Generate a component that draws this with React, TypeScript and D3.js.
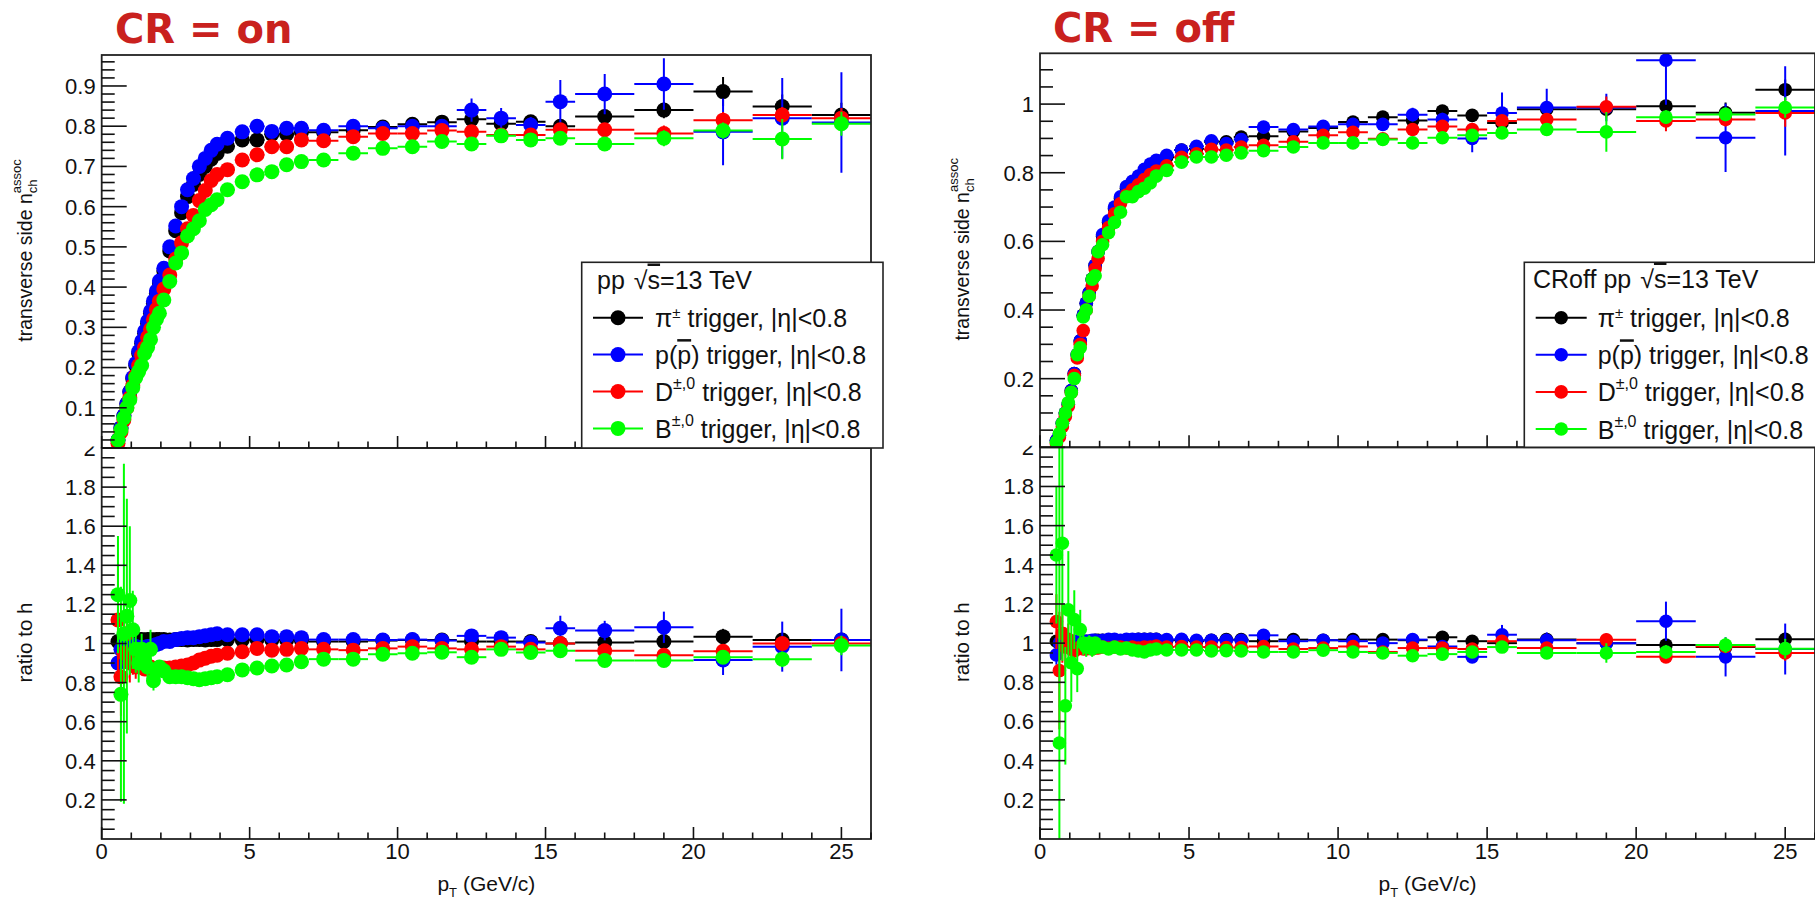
import React from 'react';
import * as d3 from 'd3';

const FONT = '"Liberation Sans", Arial, Helvetica, sans-serif';

// pT bin edges (GeV/c)
const binEdges = [0.5, 0.6, 0.7, 0.8, 0.9, 1.0, 1.1, 1.2, 1.3, 1.4, 1.5, 1.6, 1.7, 1.8, 1.9, 2.0,
  2.2, 2.4, 2.6, 2.8, 3.0, 3.2, 3.4, 3.6, 3.8, 4.0, 4.5, 5.0, 5.5, 6.0, 6.5, 7.0,
  8, 9, 10, 11, 12, 13, 14, 15, 16, 18, 20, 22, 24, 26];
const ptCenters = binEdges.slice(0, -1).map((e, i) => (e + binEdges[i + 1]) / 2);

// ---------- CR = on : transverse side n_ch^assoc ----------
const onPi = [0.02,0.05,0.08,0.11,0.14, 0.172,0.205,0.235,0.26,0.285, 0.31,0.335,0.36,0.385,0.41, 0.44,0.49,0.54,0.585,0.625, 0.655,0.68,0.70,0.718,0.732, 0.75,0.766,0.766,0.78,0.78, 0.785,0.785,0.79,0.798,0.805, 0.81,0.817,0.806,0.811,0.80, 0.824,0.840,0.886,0.849,0.828];
const onP = [0.02,0.05,0.08,0.11,0.14, 0.175,0.21,0.24,0.265,0.29, 0.315,0.34,0.365,0.39,0.415, 0.447,0.50,0.552,0.60,0.642, 0.67,0.70,0.72,0.74,0.755, 0.77,0.786,0.80,0.787,0.795, 0.795,0.79,0.80,0.795,0.80, 0.80,0.84,0.82,0.803,0.861, 0.880,0.905,0.786,0.820,0.809];
const onD = [0.012,0.04,0.07,0.10,0.125, 0.155,0.18,0.205,0.23,0.25, 0.275,0.295,0.32,0.345,0.365, 0.395,0.43,0.47,0.51,0.545, 0.578,0.615,0.64,0.665,0.68, 0.692,0.716,0.729,0.749,0.749, 0.766,0.764,0.774,0.782,0.782, 0.789,0.786,0.778,0.778,0.791, 0.791,0.782,0.815,0.828,0.820];
const onB = [0.02,0.045,0.075,0.10,0.12, 0.15,0.175,0.19,0.205,0.235, 0.25,0.27,0.30,0.32,0.335, 0.368,0.414,0.46,0.485,0.527, 0.545,0.565,0.593,0.605,0.617, 0.642,0.662,0.679,0.687,0.704, 0.712,0.716,0.733,0.745,0.749, 0.762,0.756,0.776,0.766,0.770, 0.756,0.770,0.789,0.768,0.806];
const onPiErr = [0,0,0,0,0, 0,0,0,0,0, 0,0,0,0,0, 0,0,0,0,0, 0,0,0,0,0, 0,0.004,0.004,0.005,0.005, 0.006,0.006,0.007,0.008,0.009, 0.01,0.012,0.014,0.016,0.018, 0.015,0.02,0.036,0.03,0.03];
const onPErr = [0,0,0,0,0, 0,0,0,0,0, 0,0,0,0,0, 0,0,0,0,0, 0,0,0,0,0, 0,0.005,0.005,0.006,0.006, 0.007,0.007,0.008,0.009,0.01, 0.012,0.029,0.025,0.02,0.054, 0.05,0.064,0.083,0.1,0.125];
const onDErr = [0,0,0,0,0, 0,0,0,0,0, 0,0,0,0,0, 0,0,0,0,0, 0,0,0,0,0, 0,0.004,0.004,0.005,0.005, 0.006,0.006,0.007,0.008,0.009, 0.01,0.011,0.012,0.014,0.015, 0.015,0.02,0.02,0.02,0.025];
const onBErr = [0,0,0,0,0, 0,0,0,0,0, 0,0,0,0,0, 0,0,0,0,0, 0,0,0,0,0, 0,0.004,0.004,0.005,0.005, 0.006,0.006,0.007,0.008,0.009, 0.01,0.011,0.012,0.014,0.015, 0.015,0.02,0.02,0.05,0.03];

// ---------- CR = on : ratio to h ----------
const onPiR = [1.01,0.99,1.0,1.01,1.0, 1.02,1.018,1.02,1.02,1.018, 1.02,1.02,1.018,1.02,1.02, 1.02,1.018,1.02,1.02,1.018, 1.02,1.02,1.018,1.02,1.02, 1.02,1.018,1.02,1.018,1.018, 1.015,1.01,1.01,1.015,1.018, 1.018,1.01,1.01,1.01,1.0, 1.005,1.01,1.035,1.018,1.018];
const onPR = [0.90,0.97,1.0,0.98,1.0, 0.99,0.985,0.98,0.98,0.98, 0.985,0.985,0.99,0.995,1.0, 1.01,1.01,1.02,1.025,1.03, 1.03,1.035,1.04,1.045,1.05, 1.045,1.045,1.045,1.035,1.035, 1.03,1.02,1.02,1.018,1.02, 1.015,1.039,1.03,1.005,1.078, 1.066,1.083,0.916,0.984,1.018];
const onDR = [1.12,0.83,0.95,1.05,0.90, 0.92,0.88,0.90,0.88,0.87, 0.87,0.88,0.87,0.865,0.87, 0.875,0.875,0.88,0.885,0.89, 0.90,0.915,0.925,0.935,0.94, 0.95,0.958,0.975,0.966,0.97, 0.975,0.97,0.966,0.975,0.984, 0.975,0.97,0.984,0.97,1.0, 0.963,0.94,0.96,1.0,1.0];
const onBR = [1.25,0.74,1.05,1.14,1.22, 1.07,0.97,0.90,0.97,0.92, 0.88,0.97,0.81,0.86,0.88, 0.86,0.83,0.83,0.83,0.825, 0.82,0.815,0.82,0.825,0.83, 0.84,0.865,0.875,0.885,0.89, 0.907,0.92,0.92,0.945,0.95, 0.955,0.93,0.97,0.954,0.963, 0.913,0.913,0.93,0.92,0.99];
const onPiRErr = [0.02,0.015,0.012,0.01,0.01, 0.008,0.007,0.006,0.006,0.005, 0.005,0.005,0.005,0.005,0.005, 0.005,0.005,0.005,0.005,0.005, 0.005,0.005,0.005,0.005,0.005, 0.005,0.006,0.006,0.007,0.007, 0.008,0.008,0.009,0.01,0.011, 0.012,0.014,0.016,0.018,0.02, 0.02,0.025,0.04,0.035,0.035];
const onPRErr = [0.05,0.04,0.03,0.025,0.02, 0.02,0.015,0.012,0.01,0.01, 0.008,0.008,0.008,0.008,0.008, 0.007,0.007,0.007,0.007,0.007, 0.007,0.007,0.007,0.007,0.008, 0.008,0.009,0.009,0.01,0.01, 0.011,0.012,0.013,0.014,0.016, 0.018,0.03,0.03,0.03,0.064, 0.05,0.08,0.077,0.128,0.16];
const onDRErr = [0.28,0.2,0.15,0.12,0.1, 0.08,0.06,0.05,0.04,0.035, 0.03,0.03,0.025,0.025,0.02, 0.02,0.015,0.015,0.012,0.012, 0.01,0.01,0.01,0.01,0.01, 0.01,0.01,0.01,0.011,0.011, 0.012,0.012,0.013,0.014,0.015, 0.016,0.018,0.02,0.02,0.022, 0.022,0.025,0.03,0.03,0.035];
const onBRErr = [0.3,0.55,0.87,0.6,0.38, 0.2,0.12,0.1,0.08,0.07, 0.06,0.1,0.05,0.04,0.035, 0.03,0.025,0.02,0.02,0.015, 0.015,0.015,0.012,0.012,0.012, 0.012,0.012,0.012,0.012,0.012, 0.013,0.013,0.014,0.015,0.016, 0.017,0.018,0.02,0.022,0.025, 0.025,0.03,0.035,0.04,0.05];

// ---------- CR = off : transverse side n_ch^assoc ----------
const offPi = [0.02,0.035,0.07,0.10,0.125, 0.165,0.215,0.27,0.31,0.385, 0.42,0.45,0.49,0.53,0.57, 0.615,0.655,0.695,0.725,0.755, 0.77,0.785,0.805,0.82,0.83, 0.845,0.866,0.87,0.89,0.89, 0.904,0.906,0.92,0.93,0.948, 0.962,0.952,0.980,0.967,0.945, 0.985,0.985,0.994,0.975,1.042];
const offP = [0.02,0.035,0.07,0.10,0.125, 0.165,0.215,0.27,0.31,0.385, 0.42,0.45,0.49,0.53,0.57, 0.62,0.66,0.70,0.73,0.76, 0.775,0.79,0.81,0.825,0.836, 0.851,0.866,0.877,0.893,0.885, 0.897,0.933,0.926,0.935,0.941, 0.941,0.969,0.955,0.900,0.974, 0.990,0.99,1.128,0.902,0.98];
const offD = [0.01,0.03,0.06,0.09,0.12, 0.16,0.21,0.26,0.30,0.34, 0.40,0.44,0.47,0.52,0.55, 0.60,0.64,0.68,0.71,0.735, 0.75,0.765,0.78,0.795,0.805, 0.82,0.845,0.855,0.868,0.866, 0.875,0.880,0.890,0.909,0.918, 0.899,0.926,0.935,0.926,0.951, 0.955,0.992,0.951,0.955,0.974];
const offB = [0.015,0.04,0.07,0.10,0.13, 0.16,0.20,0.27,0.29,0.38, 0.40,0.44,0.49,0.50,0.57, 0.59,0.625,0.655,0.685,0.73, 0.73,0.745,0.755,0.77,0.79, 0.807,0.831,0.846,0.846,0.851, 0.858,0.864,0.875,0.887,0.887, 0.897,0.887,0.902,0.909,0.916, 0.926,0.919,0.962,0.970,0.990];
const offPiErr = [0,0,0,0,0, 0,0,0,0,0, 0,0,0,0,0, 0,0,0,0,0, 0,0,0,0,0, 0,0.004,0.004,0.005,0.005, 0.006,0.006,0.007,0.008,0.009, 0.01,0.011,0.012,0.014,0.015, 0.02,0.02,0.02,0.03,0.03];
const offPErr = [0,0,0,0,0, 0,0,0,0,0, 0,0,0,0,0, 0,0,0,0,0, 0,0,0,0,0, 0,0.005,0.005,0.006,0.006, 0.007,0.007,0.008,0.009,0.01, 0.012,0.02,0.02,0.04,0.06, 0.055,0.04,0.13,0.1,0.13];
const offDErr = [0,0,0,0,0, 0,0,0,0,0, 0,0,0,0,0, 0,0,0,0,0, 0,0,0,0,0, 0,0.004,0.004,0.005,0.005, 0.006,0.006,0.007,0.008,0.009, 0.01,0.011,0.012,0.014,0.015, 0.015,0.03,0.03,0.02,0.04];
const offBErr = [0,0,0,0,0, 0,0,0,0,0, 0,0,0,0,0, 0,0,0,0,0, 0,0,0,0,0, 0,0.004,0.004,0.005,0.005, 0.006,0.006,0.007,0.008,0.009, 0.01,0.011,0.012,0.014,0.015, 0.015,0.058,0.02,0.02,0.03];

// ---------- CR = off : ratio to h ----------
const offPiR = [1.01,1.0,1.0,1.01,1.0, 1.0,1.01,1.01,1.01,1.01, 1.01,1.01,1.01,1.015,1.015, 1.015,1.015,1.015,1.01,1.015, 1.015,1.02,1.02,1.02,1.02, 1.015,1.015,1.01,1.015,1.018, 1.018,1.01,1.018,1.015,1.018, 1.018,1.015,1.03,1.01,1.0, 1.018,1.0,0.99,0.98,1.02];
const offPR = [0.94,1.0,1.0,1.0,1.0, 1.0,1.0,1.01,1.0,1.01, 1.01,1.01,1.015,1.015,1.01, 1.015,1.02,1.02,1.015,1.02, 1.02,1.02,1.02,1.02,1.02, 1.018,1.02,1.015,1.015,1.015, 1.015,1.04,1.01,1.015,1.01, 1.0,1.018,0.983,0.93,1.043, 1.015,1.0,1.112,0.93,0.97];
const offDR = [1.11,0.86,1.05,0.98,1.02, 0.97,0.96,0.97,0.98,0.97, 0.97,0.975,0.97,0.975,0.975, 0.98,0.975,0.98,0.98,0.975, 0.98,0.975,0.98,0.98,0.985, 0.98,0.983,0.98,0.98,0.978, 0.978,0.983,0.97,0.975,0.983, 0.955,0.975,0.975,0.97,1.01, 0.975,1.017,0.93,0.983,0.95];
const offBR = [1.45,0.49,1.51,0.68,1.17, 0.90,1.12,0.87,1.07,1.0, 0.98,1.0,0.97,1.0,0.98, 0.98,0.97,0.98,0.97,0.975, 0.965,0.96,0.955,0.965,0.97, 0.965,0.965,0.965,0.96,0.962, 0.96,0.955,0.955,0.964,0.955, 0.95,0.936,0.944,0.955,0.98, 0.95,0.95,0.955,0.99,0.972];
const offPiRErr = [0.03,0.02,0.015,0.012,0.01, 0.008,0.007,0.006,0.006,0.005, 0.005,0.005,0.005,0.005,0.005, 0.005,0.005,0.005,0.005,0.005, 0.005,0.005,0.005,0.005,0.005, 0.005,0.006,0.006,0.007,0.007, 0.008,0.008,0.009,0.01,0.011, 0.012,0.014,0.016,0.018,0.02, 0.02,0.025,0.025,0.03,0.035];
const offPRErr = [0.05,0.04,0.03,0.025,0.02, 0.02,0.015,0.012,0.01,0.01, 0.008,0.008,0.008,0.008,0.008, 0.007,0.007,0.007,0.007,0.007, 0.007,0.007,0.007,0.007,0.008, 0.008,0.009,0.009,0.01,0.01, 0.011,0.012,0.013,0.014,0.016, 0.018,0.02,0.025,0.03,0.05, 0.04,0.05,0.1,0.1,0.13];
const offDRErr = [0.14,0.3,0.15,0.1,0.08, 0.06,0.05,0.04,0.03,0.03, 0.025,0.025,0.02,0.02,0.02, 0.015,0.015,0.012,0.012,0.01, 0.01,0.01,0.01,0.01,0.01, 0.01,0.01,0.01,0.011,0.011, 0.012,0.012,0.013,0.014,0.015, 0.016,0.018,0.02,0.02,0.022, 0.022,0.03,0.03,0.03,0.04];
const offBRErr = [0.35,1.6,0.6,0.3,0.3, 0.2,0.15,0.12,0.1,0.06, 0.05,0.04,0.04,0.03,0.03, 0.02,0.02,0.02,0.015,0.015, 0.015,0.012,0.012,0.012,0.012, 0.012,0.012,0.012,0.012,0.012, 0.013,0.013,0.014,0.015,0.016, 0.017,0.018,0.02,0.022,0.025, 0.025,0.05,0.035,0.04,0.05];

const seriesColors = ['#000000', '#0000ff', '#ff0000', '#00ff00'];
const xTickValues = d3.range(0, 27);

type Geo = { x0: number; x1: number; top: number; split: number; bottom: number };

function fmt(v: number) {
  return String(parseFloat(v.toFixed(2)));
}

function Series({ vals, errs, color, x, y, r }: any) {
  return (
    <g>
      {vals.map((v: number, i: number) => {
        const yc = y(v);
        const e = errs[i];
        return (
          <g key={i}>
            <line x1={x(binEdges[i])} x2={x(binEdges[i + 1])} y1={yc} y2={yc} stroke={color} strokeWidth={2} />
            {e > 0 && (
              <line x1={x(ptCenters[i])} x2={x(ptCenters[i])} y1={y(v - e)} y2={y(v + e)} stroke={color} strokeWidth={2} />
            )}
          </g>
        );
      })}
      {vals.map((v: number, i: number) => (
        <circle key={'m' + i} cx={x(ptCenters[i])} cy={y(v)} r={r} fill={color} />
      ))}
    </g>
  );
}

function Panel({ id, g, upperMax, upperStep, upperMajorEvery, upper, upperErr, ratio, ratioErr, r, title, titleX, titleY, titleFill, yTitleX, legend }: any) {
  const x = d3.scaleLinear().domain([0, 26]).range([g.x0, g.x1]);
  const yU = d3.scaleLinear().domain([0, upperMax]).range([g.split, g.top]);
  const yR = d3.scaleLinear().domain([0, 2]).range([g.bottom, g.split]);
  const nU = Math.floor(upperMax / upperStep + 1e-6);
  const uTicks = d3.range(1, nU + 1).map((k) => ({ v: k * upperStep, major: k % upperMajorEvery === 0 }));
  const rTicks = d3.range(1, 41).map((k) => ({ v: k * 0.05, major: k % 4 === 0 }));
  const tickStroke = '#111';
  const w = g.x1 - g.x0;
  return (
    <g fontFamily={FONT}>
      <defs>
        <clipPath id={id + 'u'}>
          <rect x={g.x0} y={g.top} width={w} height={g.split - g.top} />
        </clipPath>
        <clipPath id={id + 'r'}>
          <rect x={g.x0} y={g.split} width={w} height={g.bottom - g.split} />
        </clipPath>
        <clipPath id={id + 'lab'}>
          <rect x={0} y={g.split - 1.5} width={1815} height={904} />
        </clipPath>
      </defs>

      {/* title */}
      <text x={titleX} y={titleY} fontFamily='"DejaVu Sans", sans-serif' fontWeight="bold" fontSize={40} fill={titleFill}>{title}</text>

      {/* data */}
      <g clipPath={`url(#${id}u)`}>
        {upper.map((vals: number[], s: number) => (
          <Series key={s} vals={vals} errs={upperErr[s]} color={seriesColors[s]} x={x} y={yU} r={r} />
        ))}
      </g>
      <g clipPath={`url(#${id}r)`}>
        {ratio.map((vals: number[], s: number) => (
          <Series key={s} vals={vals} errs={ratioErr[s]} color={seriesColors[s]} x={x} y={yR} r={r} />
        ))}
      </g>

      {/* frames */}
      <rect x={g.x0} y={g.top} width={w} height={g.split - g.top} fill="none" stroke="#222" strokeWidth={1.8} />
      <rect x={g.x0} y={g.split} width={w} height={g.bottom - g.split} fill="none" stroke="#222" strokeWidth={1.8} />

      {/* upper y ticks */}
      {uTicks.map((t: any, i: number) => (
        <line key={'ut' + i} x1={g.x0} x2={g.x0 + (t.major ? 25 : 13)} y1={yU(t.v)} y2={yU(t.v)} stroke={tickStroke} strokeWidth={1.6} />
      ))}
      {uTicks.filter((t: any) => t.major).map((t: any, i: number) => (
        <text key={'ul' + i} x={g.x0 - 6} y={yU(t.v)} dy="0.36em" textAnchor="end" fontSize={22} fill="#111">{fmt(t.v)}</text>
      ))}

      {/* ratio y ticks */}
      {rTicks.map((t: any, i: number) => (
        <line key={'rt' + i} x1={g.x0} x2={g.x0 + (t.major ? 25 : 13)} y1={yR(t.v)} y2={yR(t.v)} stroke={tickStroke} strokeWidth={1.6} />
      ))}
      <g clipPath={`url(#${id}lab)`}>
        {rTicks.filter((t: any) => t.major).map((t: any, i: number) => (
          <text key={'rl' + i} x={g.x0 - 6} y={yR(t.v)} dy="0.36em" textAnchor="end" fontSize={22} fill="#111">{fmt(t.v)}</text>
        ))}
      </g>

      {/* x ticks (upper pad bottom and ratio pad bottom) */}
      {xTickValues.map((v) => (
        <g key={'xt' + v}>
          <line x1={x(v)} x2={x(v)} y1={g.split} y2={g.split - (v % 5 === 0 ? 12 : 6.5)} stroke={tickStroke} strokeWidth={1.6} />
          <line x1={x(v)} x2={x(v)} y1={g.bottom} y2={g.bottom - (v % 5 === 0 ? 12 : 6.5)} stroke={tickStroke} strokeWidth={1.6} />
        </g>
      ))}
      {xTickValues.filter((v) => v % 5 === 0).map((v) => (
        <text key={'xl' + v} x={x(v)} y={859} textAnchor="middle" fontSize={22} fill="#111">{v}</text>
      ))}

      {/* axis titles */}
      <text x={(g.x0 + g.x1) / 2} y={891} textAnchor="middle" fontSize={21} fill="#111">
        p<tspan fontSize={13} dy={6}>T</tspan><tspan dy={-6}> (GeV/c)</tspan>
      </text>
      <text transform={`translate(${yTitleX},${(g.top + g.split) / 2 - 1}) rotate(-90)`} textAnchor="middle" fontSize={19.5} fill="#111">
        transverse side n<tspan fontSize={13} dy={5}>ch</tspan><tspan fontSize={13} dx={-13.7} dy={-16}>assoc</tspan>
      </text>
      <text transform={`translate(${yTitleX},${(g.split + g.bottom) / 2 - 1}) rotate(-90)`} textAnchor="middle" fontSize={20.5} fill="#111">
        ratio to h
      </text>

      {/* legend */}
      <g>
        <rect x={legend.bx} y={legend.by} width={g.x1 - legend.bx + 12} height={g.split - legend.by} fill="#fff" stroke="#222" strokeWidth={1.6} />
        <text x={legend.hx} y={legend.hy} fontSize={25} fill="#111" style={{ whiteSpace: 'pre' }}>
          {legend.prefix}<tspan dx={9}>√</tspan><tspan style={{ textDecoration: 'overline' }}>s</tspan>=13 TeV
        </text>
        {seriesColors.map((c, i) => {
          const ly = legend.ey + i * legend.dy;
          return (
            <g key={'lg' + i}>
              <line x1={legend.lx0} x2={legend.lx1} y1={ly} y2={ly} stroke={c} strokeWidth={2} />
              <circle cx={(legend.lx0 + legend.lx1) / 2} cy={ly} r={r} fill={c} />
              <text x={legend.tx} y={ly + 9.5} fontSize={25} fill="#111" style={{ whiteSpace: 'pre' }}>
                {i === 0 && (<>π<tspan fontSize={15} dy={-9}>±</tspan><tspan dy={9}>{' trigger, |η|<0.8'}</tspan></>)}
                {i === 1 && (<>p(<tspan style={{ textDecoration: 'overline' }}>p</tspan>){' trigger, |η|<0.8'}</>)}
                {i === 2 && (<>D<tspan fontSize={16} dy={-12}>±,0</tspan><tspan dy={12}>{' trigger, |η|<0.8'}</tspan></>)}
                {i === 3 && (<>B<tspan fontSize={16} dy={-12}>±,0</tspan><tspan dy={12}>{' trigger, |η|<0.8'}</tspan></>)}
              </text>
            </g>
          );
        })}
      </g>
    </g>
  );
}

export default function App() {
  const leftGeo: Geo = { x0: 101.7, x1: 871, top: 55, split: 448, bottom: 839 };
  const rightGeo: Geo = { x0: 1040, x1: 1815, top: 53.3, split: 447.3, bottom: 839 };
  return (
    <svg width={1815} height={904} style={{ position: 'absolute', left: 0, top: 0, background: '#fff' }}>
      <rect x={0} y={0} width={1815} height={904} fill="#fff" />
      <Panel
        id="L"
        g={leftGeo}
        upperMax={0.977}
        upperStep={0.02}
        upperMajorEvery={5}
        upper={[onPi, onP, onD, onB]}
        upperErr={[onPiErr, onPErr, onDErr, onBErr]}
        ratio={[onPiR, onPR, onDR, onBR]}
        ratioErr={[onPiRErr, onPRErr, onDRErr, onBRErr]}
        r={7.5}
        title="CR = on"
        titleX={115}
        titleY={43}
        titleFill="#c9211e"
        yTitleX={32}
        legend={{ bx: 581.7, by: 262.3, hx: 597, hy: 288.5, prefix: 'pp', ey: 317.7, dy: 36.9, lx0: 593, lx1: 643, tx: 655 }}
      />
      <Panel
        id="R"
        g={rightGeo}
        upperMax={1.148}
        upperStep={0.05}
        upperMajorEvery={4}
        upper={[offPi, offP, offD, offB]}
        upperErr={[offPiErr, offPErr, offDErr, offBErr]}
        ratio={[offPiR, offPR, offDR, offBR]}
        ratioErr={[offPiRErr, offPRErr, offDRErr, offBRErr]}
        r={6.8}
        title="CR = off"
        titleX={1053}
        titleY={42}
        titleFill="#c9211e"
        yTitleX={969}
        legend={{ bx: 1524.3, by: 262.3, hx: 1533, hy: 287.5, prefix: 'CRoff pp', ey: 317.7, dy: 37.1, lx0: 1535.7, lx1: 1586.7, tx: 1597.7 }}
      />
    </svg>
  );
}
